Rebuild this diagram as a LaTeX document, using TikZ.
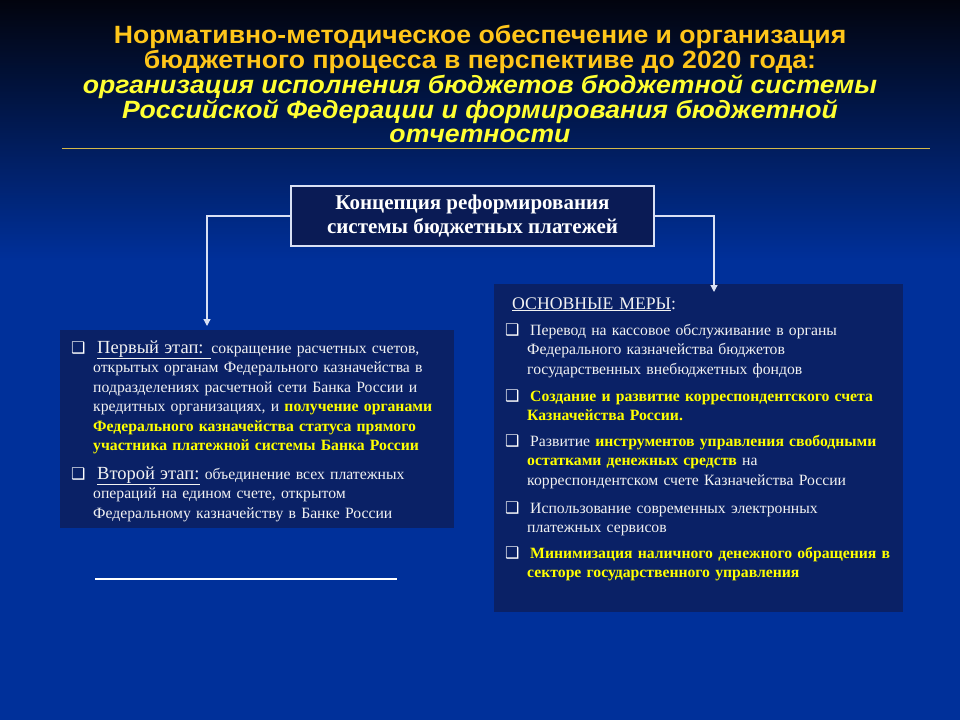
\documentclass[tikz,border=0pt]{standalone}
\usepackage{fontspec}
\setmainfont{Liberation Serif}
\newfontfamily\hfont[FakeStretch=1.065]{Liberation Sans}
\newfontfamily\symfont{DejaVu Sans}
\usetikzlibrary{arrows.meta}
\definecolor{bgtop}{HTML}{02040E}
\definecolor{bgmidd}{HTML}{061C5E}
\definecolor{bgbot}{HTML}{00309A}
\definecolor{boxfill}{HTML}{0A2166}
\definecolor{cfill}{HTML}{0A1B55}
\definecolor{tgold}{HTML}{FFC61A}
\definecolor{tyel}{HTML}{FFFF33}
\definecolor{hl}{HTML}{FFFF00}
\definecolor{txt}{HTML}{F2F2F2}
\definecolor{rule}{HTML}{D4B84A}
\definecolor{conncol}{HTML}{D8E0F4}
\newcommand{\hy}[1]{{\bfseries\color{hl}#1}}
\newcommand{\hd}[1]{{\fontsize{18.5}{19.5}\selectfont\underline{#1}}}
\tikzset{
  ttl/.style={font=\hfont\bfseries\fontsize{25}{25}\selectfont, anchor=base, inner sep=0},
  ttli/.style={ttl, font=\hfont\bfseries\itshape\fontsize{25}{25}\selectfont},
  cbox/.style={draw=conncol, line width=1.2pt, fill=cfill, text=white, align=center,
     font=\bfseries\fontsize{21}{24}\selectfont, minimum width=363, minimum height=60, inner sep=0},
  panel/.style={fill=boxfill, anchor=north west, inner sep=0},
  item/.style={anchor=base west, inner sep=0, align=left, text=txt, text width=385,
     font=\fontsize{15.7}{19.5}\selectfont},
  bullet/.style={anchor=base west, inner sep=0, text=white,
     font=\symfont\fontsize{16}{16}\selectfont},
  conn/.style={draw=conncol, line width=1.2pt, -{Triangle[length=7pt,width=7pt]}},
}
\begin{document}
\begin{tikzpicture}[x=1pt,y=-1pt]
\useasboundingbox (0,0) rectangle (960,720);
% background
\shade[top color=bgtop, middle color=bgmidd, bottom color=bgbot] (0,0) rectangle (960,260);
\fill[bgbot] (0,260) rectangle (960,720);
% title
\node[ttl, text=tgold] (t1) at (480,43) {Нормативно-методическое обеспечение и организация};
\node[ttl, text=tgold] (t2) at (480,68) {бюджетного процесса в перспективе до 2020 года:};
\node[ttli, text=tyel] (t3) at (480,93) {организация исполнения бюджетов бюджетной системы};
\node[ttli, text=tyel] (t4) at (480,118) {Российской Федерации и формирования бюджетной};
\node[ttli, text=tyel] (t5) at (480,142) {отчетности};
\coordinate (ruleL) at (62,148);
\coordinate (ruleR) at (930,148);
\draw[rule, line width=1pt] (ruleL) -- (ruleR);
% central box
\node[cbox] (concept) at (472.5,216) {Концепция реформирования\\системы бюджетных платежей};
% panels
\node[panel, minimum width=394, minimum height=198] (left) at (60,330) {};
\node[panel, minimum width=409, minimum height=328] (right) at (494,284) {};
% connectors
\coordinate (la) at (207,326);
\coordinate (ra) at (714,292);
\draw[conn] (concept.west) -| (la);
\draw[conn] (concept.east) -| (ra);
% left panel text
\node[bullet] (lb1) at (71,353) {❑};
\node[item] (l1) at (93,353) {\hspace*{4pt}\hd{Первый этап: }сокращение расчетных счетов,\\
открытых органам Федерального казначейства в\\
подразделениях расчетной сети Банка России и\\
кредитных организациях, и \hy{получение органами}\\
\hy{Федерального казначейства статуса прямого}\\
\hy{участника платежной системы Банка России}};
\node[bullet] (lb2) at (71,479) {❑};
\node[item] (l2) at (93,479) {\hspace*{4pt}\hd{Второй этап:} объединение всех платежных\\
операций на едином счете, открытом\\
Федеральному казначейству в Банке России};
% right panel text
\node[item, font=\fontsize{17.7}{19.5}\selectfont] (rh) at (512,309) {\underline{ОСНОВНЫЕ МЕРЫ}:};
\node[bullet] (rb1) at (505,335) {❑};
\node[item] (r1) at (527,335) {\hspace*{3pt}Перевод на кассовое обслуживание в органы\\
Федерального казначейства бюджетов\\
государственных внебюджетных фондов};
\node[bullet] (rb2) at (505,401) {❑};
\node[item] (r2) at (527,401) {\hspace*{3pt}\hy{Создание и развитие корреспондентского счета}\\
\hy{Казначейства России.}};
\node[bullet] (rb3) at (505,446) {❑};
\node[item] (r3) at (527,446) {\hspace*{3pt}Развитие \hy{инструментов управления свободными}\\
\hy{остатками денежных средств} на\\
корреспондентском счете Казначейства России};
\node[bullet] (rb4) at (505,513) {❑};
\node[item] (r4) at (527,513) {\hspace*{3pt}Использование современных электронных\\
платежных сервисов};
\node[bullet] (rb5) at (505,558) {❑};
\node[item] (r5) at (527,558) {\hspace*{3pt}\hy{Минимизация наличного денежного обращения в}\\
\hy{секторе государственного управления}};
% bottom-left line
\coordinate (blL) at (95,579);
\coordinate (blR) at (397,579);
\draw[white, line width=1.5pt] (blL) -- (blR);
\end{tikzpicture}
\end{document}
